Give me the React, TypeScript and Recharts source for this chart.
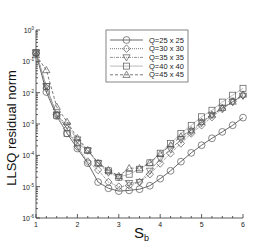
import { LineChart, Line, XAxis, YAxis } from 'recharts';

// S_b sample positions
const sb = [1, 1.25, 1.5, 1.75, 2, 2.25, 2.5, 2.75, 3, 3.25, 3.5, 3.75, 4, 4.25, 4.5, 4.75, 5, 5.25, 5.5, 5.75, 6];

const q25 = [1.8e-1, 1.05e-2, 1.8e-3, 5.0e-4, 1.65e-4, 5.6e-5, 1.4e-5, 8.9e-6, 7.2e-6, 7.6e-6, 8.3e-6, 1.07e-5, 1.8e-5, 3.2e-5, 6.3e-5, 1.2e-4, 2.1e-4, 3.5e-4, 5.6e-4, 9.1e-4, 1.6e-3];
const q30 = [1.8e-1, 1.4e-2, 2.0e-3, 7.1e-4, 1.9e-4, 6.3e-5, 3.4e-5, 1.4e-5, 1.0e-5, 1.1e-5, 1.4e-5, 2.5e-5, 5.5e-5, 1.15e-4, 2.4e-4, 5.0e-4, 9.1e-4, 1.66e-3, 3.0e-3, 5.2e-3, 8.3e-3];
const q35 = [1.9e-1, 1.6e-2, 2.0e-3, 8.9e-4, 3.2e-4, 1.41e-4, 5.6e-5, 2.8e-5, 2.0e-5, 1.3e-5, 1.4e-5, 3.2e-5, 7.9e-5, 1.58e-4, 3.2e-4, 5.6e-4, 1.07e-3, 1.9e-3, 3.2e-3, 5.0e-3, 7.9e-3];
const q40 = [1.9e-1, 1.58e-2, 1.9e-3, 5.0e-4, 2.5e-4, 1.41e-4, 5.6e-5, 3.2e-5, 2.0e-5, 2.5e-5, 3.6e-5, 5.75e-5, 1.17e-4, 2.4e-4, 5.0e-4, 9.1e-4, 1.7e-3, 2.75e-3, 5.0e-3, 8.3e-3, 1.38e-2];
const q45 = [1.58e-1, 5.25e-2, 3.55e-3, 1.17e-3, 3.55e-4, 1.48e-4, 5.75e-5, 3.4e-5, 2.2e-5, 3.9e-5, 3.9e-5, 5.75e-5, 1.1e-4, 2.1e-4, 4.0e-4, 6.3e-4, 1.17e-3, 2.0e-3, 3.3e-3, 5.2e-3, 8.7e-3];

const xMajor = [1, 2, 3, 4, 5, 6];
const yMajor = [1e-6, 1e-5, 1e-4, 1e-3, 1e-2, 1e-1, 1];
const yExp = ['-6', '-5', '-4', '-3', '-2', '-1', '0'];

const series = [
  { key: 'q25', name: 'Q=25 x 25', values: q25, shape: 'circle', dash: undefined, color: '#444' },
  { key: 'q30', name: 'Q=30 x 30', values: q30, shape: 'diamond', dash: '1 1', color: '#555' },
  { key: 'q35', name: 'Q=35 x 35', values: q35, shape: 'down', dash: '3 1 1 1', color: '#777' },
  { key: 'q40', name: 'Q=40 x 40', values: q40, shape: 'square', dash: undefined, color: '#aaa' },
  { key: 'q45', name: 'Q=45 x 45', values: q45, shape: 'up', dash: '3 2', color: '#555' },
];

const data = sb.map((s, i) => {
  const row: any = { s };
  series.forEach((ser) => { row[ser.key] = ser.values[i]; });
  return row;
});

const xTicks = sb;
const yTicks: number[] = [];
for (let k = -6; k <= 0; k++) {
  yTicks.push(Math.pow(10, k));
  if (k < 0) for (let m = 2; m <= 9; m++) yTicks.push(m * Math.pow(10, k));
}

const FONT = '"Liberation Sans", Arial, sans-serif';

function Marker({ cx, cy, shape }: { cx: number; cy: number; shape: string }) {
  const common = { fill: 'none', stroke: '#555', strokeWidth: 0.7 };
  if (shape === 'circle') return <circle cx={cx} cy={cy} r={3.4} {...common} />;
  if (shape === 'square') return <rect x={cx - 3} y={cy - 3} width={6} height={6} {...common} />;
  if (shape === 'diamond')
    return <polygon points={`${cx},${cy - 3.8} ${cx + 3.6},${cy} ${cx},${cy + 3.8} ${cx - 3.6},${cy}`} {...common} />;
  if (shape === 'down')
    return <polygon points={`${cx - 3.6},${cy - 2.6} ${cx + 3.6},${cy - 2.6} ${cx},${cy + 3.6}`} {...common} />;
  return <polygon points={`${cx - 3.6},${cy + 2.6} ${cx + 3.6},${cy + 2.6} ${cx},${cy - 3.6}`} {...common} />;
}

function XTick(props: any) {
  const { x, y, payload } = props;
  const v = payload.value;
  const major = xMajor.includes(v);
  return (
    <g>
      <line x1={x} y1={y} x2={x} y2={y - (major ? 4 : 2)} stroke="#333" strokeWidth={0.8} />
      {major && (
        <text x={x} y={y + 9} textAnchor="middle" fontSize={7} fontFamily={FONT} fill="#222">
          {v}
        </text>
      )}
    </g>
  );
}

function YTick(props: any) {
  const { x, y, payload } = props;
  const v = payload.value;
  const idx = yMajor.findIndex((m) => Math.abs(m - v) / m < 1e-6);
  const major = idx >= 0;
  return (
    <g>
      <line x1={x} y1={y} x2={x + (major ? 4 : 2)} y2={y} stroke="#333" strokeWidth={0.8} />
      {major && (
        <text x={x - 2} y={y + 3} textAnchor="end" fontSize={7} fontFamily={FONT} fill="#222">
          10<tspan dy={-3} fontSize={4.5}>{yExp[idx]}</tspan>
        </text>
      )}
    </g>
  );
}

function LegendBox() {
  return (
    <svg width={84} height={54} style={{ position: 'absolute', left: 105, top: 29 }}>
      <rect x={1} y={1} width={82} height={52} fill="#fff" stroke="#666" strokeWidth={0.8} />
      {series.map((ser, i) => {
        const y = 11 + i * 8.7;
        return (
          <g key={ser.key}>
            <line x1={5} y1={y} x2={38} y2={y} stroke={ser.color} strokeWidth={0.8} strokeDasharray={ser.dash} />
            <Marker cx={21.5} cy={y} shape={ser.shape} />
            <text x={44} y={y + 2.6} fontSize={7.5} fontFamily={FONT} fill="#222">
              {ser.name}
            </text>
          </g>
        );
      })}
    </svg>
  );
}

export default function App() {
  return (
    <div style={{ position: 'relative', width: 277, height: 246, background: '#fff' }}>
      <style>{'body{margin:0}'}</style>
      <LineChart width={277} height={246} data={data} margin={{ top: 30, right: 34, left: 0, bottom: 0 }}>
        <XAxis
          dataKey="s"
          type="number"
          domain={[1, 6]}
          ticks={xTicks}
          interval={0}
          height={28}
          tickSize={0}
          tickMargin={0}
          tickLine={false}
          axisLine={{ stroke: '#333', strokeWidth: 0.8 }}
          tick={(p: any) => <XTick {...p} />}
        />
        <YAxis
          type="number"
          scale="log"
          domain={[1e-6, 1]}
          allowDataOverflow
          ticks={yTicks}
          interval={0}
          width={36}
          tickSize={0}
          tickMargin={0}
          tickLine={false}
          axisLine={{ stroke: '#333', strokeWidth: 0.8 }}
          tick={(p: any) => <YTick {...p} />}
        />
        {series.map((ser) => (
          <Line
            key={ser.key}
            dataKey={ser.key}
            name={ser.name}
            type="linear"
            stroke={ser.color}
            strokeWidth={0.8}
            strokeDasharray={ser.dash}
            isAnimationActive={false}
            dot={(p: any) => <Marker key={`${ser.key}-${p.index}`} cx={p.cx} cy={p.cy} shape={ser.shape} />}
          />
        ))}
      </LineChart>
      <LegendBox />
      <svg width={277} height={246} style={{ position: 'absolute', left: 0, top: 0, pointerEvents: 'none' }}>
        <text
          transform="translate(16,128) rotate(-90)"
          textAnchor="middle"
          fontSize={13}
          fontFamily={FONT}
          fill="#111"
        >
          LLSQ residual norm
        </text>
        <text x={134} y={238} fontSize={15} fontFamily={FONT} fill="#111">
          S<tspan fontSize={9} dy={3}>b</tspan>
        </text>
      </svg>
    </div>
  );
}
